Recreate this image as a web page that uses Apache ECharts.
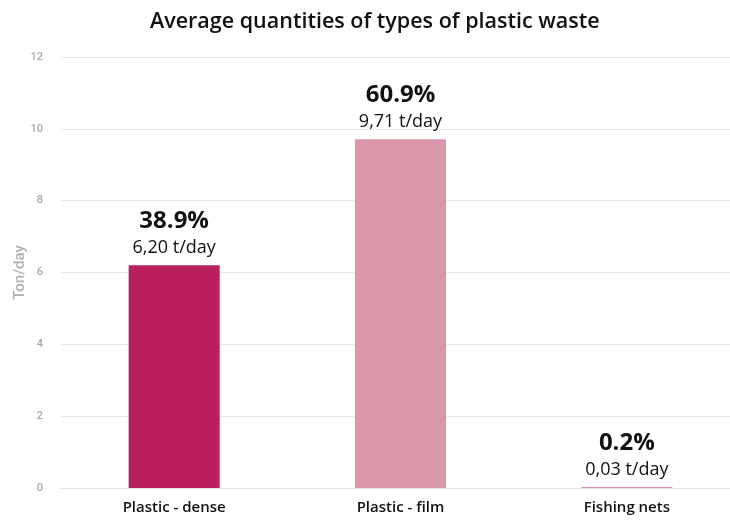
<!DOCTYPE html>
<html><head><meta charset="utf-8">
<script src="https://cdn.jsdelivr.net/npm/echarts@6/dist/echarts.min.js"></script>
<style>html,body{margin:0;padding:0;background:#fff}#c{width:730px;height:520px}</style>
</head><body><div id="c"></div>
<script>
const categories = ['Plastic - dense', 'Plastic - film', 'Fishing nets'];
const values = [6.20, 9.71, 0.03];
const percents = ['38.9%', '60.9%', '0.2%'];
const valueLabels = ['6,20 t/day', '9,71 t/day', '0,03 t/day'];
const colors = ['#B81F5C', '#DB97AA', '#D98FA4'];
const yTicks = [0, 2, 4, 6, 8, 10, 12];

const chart = echarts.init(document.getElementById('c'), null, {renderer: 'canvas'});
chart.setOption({
  animation: false,
  backgroundColor: '#fff',
  title: {
    text: 'Average quantities of types of plastic waste',
    left: 145, top: 6,
    textStyle: {fontFamily: 'Open Sans', fontSize: 21.5, fontWeight: 600, color: '#111'}
  },
  grid: {left: 61, width: 679, top: 57, bottom: 32, outerBoundsMode: 'none', containLabel: false},
  xAxis: {
    type: 'category', data: categories,
    axisTick: {show: false},
    axisLine: {lineStyle: {color: '#e3e3e3'}},
    axisLabel: {fontFamily: 'Open Sans', fontSize: 15, fontWeight: 600, color: '#111', margin: 12}
  },
  yAxis: {
    type: 'value', min: 0, max: 12, interval: 2,
    name: 'Ton/day', nameLocation: 'middle', nameGap: 33, nameRotate: 90, nameMoveOverlap: false,
    nameTextStyle: {fontFamily: 'Roboto', fontSize: 15, fontWeight: 500, color: '#b0b0b0'},
    axisLine: {show: false}, axisTick: {show: false},
    axisLabel: {fontFamily: 'Roboto', fontSize: 11, fontWeight: 500, color: '#a8a8a8', margin: 18,
      formatter: v => yTicks.includes(v) ? String(v) : ''},
    splitLine: {lineStyle: {color: '#e8e8e8'}}
  },
  series: [{
    type: 'bar', barWidth: 91,
    data: values.map((v, i) => ({value: v, itemStyle: {color: colors[i]}})),
    label: {
      show: true, position: 'top', distance: 5,
      formatter: p => '{a|' + percents[p.dataIndex] + '}\n{b|' + valueLabels[p.dataIndex] + '}',
      rich: {
        a: {fontFamily: 'Open Sans', fontSize: 24, fontWeight: 'bold', color: '#111', lineHeight: 30},
        b: {fontFamily: 'Open Sans', fontSize: 18, color: '#111', lineHeight: 24}
      }
    }
  }]
});
</script></body></html>
